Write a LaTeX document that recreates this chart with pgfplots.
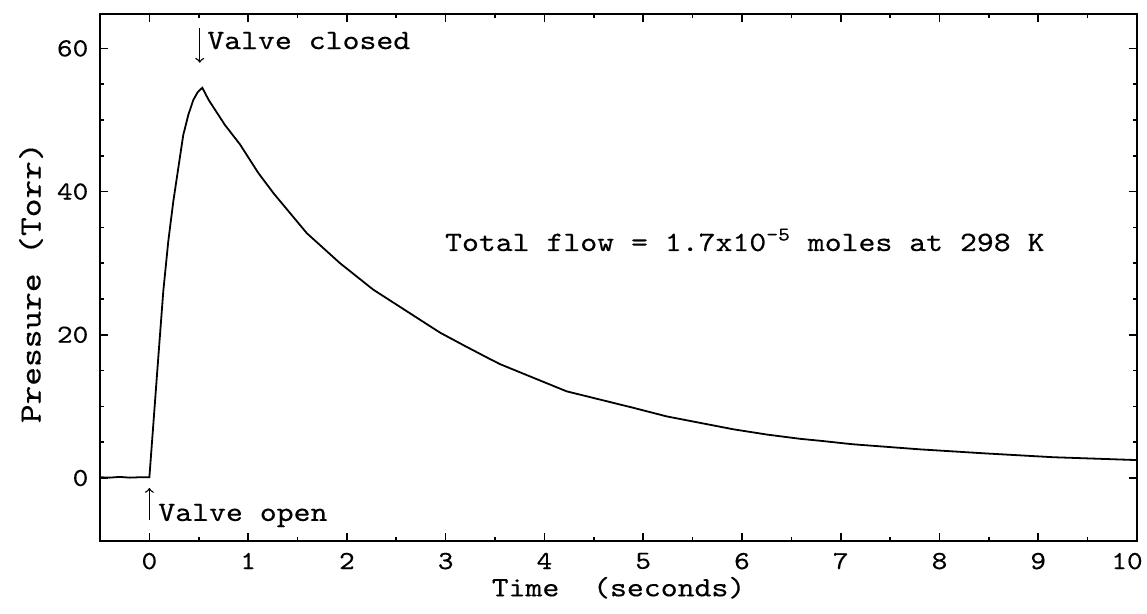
\documentclass[border=0pt]{standalone}
\usepackage{pgfplots}
\pgfplotsset{compat=1.18}
\usepackage{fontspec}
\newfontfamily\plotfont{lmmono10-regular}[Extension=.otf, FakeStretch=1.15, FakeBold=0.3]
\begin{document}
\begin{tikzpicture}
\begin{axis}[
  scale only axis,
  width=518.5pt, height=263.5pt,
  xmin=-0.5, xmax=10, ymin=-8.8, ymax=64.8,
  xtick={0,1,...,10}, ytick={0,20,40,60},
  xticklabels={0,1,2,3,4,5,6,7,8,9,{10\hspace*{10pt}}},
  minor x tick num=1, minor y tick num=3,
  tick align=inside, tick pos=both,
  major tick length=3.8pt, minor tick length=2.2pt,
  every tick/.style={black, line width=0.8pt},
  axis line style={line width=1.2pt},
  /pgf/number format/assume math mode=true,
  tick label style={font=\plotfont\fontsize{13}{15}\selectfont},
  xticklabel shift=2.4pt,
  yticklabel shift=2.3pt,
  xlabel={Time\ \ (seconds)}, ylabel={Pressure (Torr)},
  xlabel style={font=\plotfont\fontsize{14}{16}\selectfont, at={(axis description cs:0.5,-0.105)}, anchor=base},
  ylabel style={font=\plotfont\fontsize{15.5}{17}\selectfont, at={(axis description cs:-0.0665,0.49)}, anchor=center},
  clip=false,
]
\addplot[black, line width=0.9pt] coordinates {
(-0.5,0.1) (-0.4,0.05) (-0.3,0.15) (-0.2,0.05) (-0.1,0.1) (0.0,0.1)
(0.04,7.5) (0.09,16.8) (0.141,26.1) (0.191,33.0) (0.242,38.6)
(0.293,43.3) (0.343,47.9) (0.394,50.7) (0.445,52.8) (0.49,53.9) (0.536,54.5)
(0.6,52.8) (0.765,49.3) (0.917,46.6) (1.103,42.6) (1.255,39.8)
(1.593,34.2) (1.93,30.0) (2.267,26.3) (2.605,23.3) (2.943,20.3)
(3.2,18.4) (3.45,16.6) (3.55,15.9) (3.887,14.0) (4.225,12.1)
(4.563,10.95) (4.9,9.8) (5.238,8.6) (5.575,7.7) (5.913,6.8)
(6.25,6.07) (6.588,5.47) (6.79,5.2) (7.06,4.8) (7.13,4.7)
(7.8,4.0) (8.48,3.42) (9.15,2.9) (10.0,2.5)
};
\draw[->, line width=0.7pt] (axis cs:0,-5.9) -- (axis cs:0,-1.4);
\node[anchor=base west, inner sep=0pt, font=\plotfont\fontsize{14}{16}\selectfont] at (axis cs:0.087,-6.0) {Valve open};
\draw[->, line width=0.7pt] (axis cs:0.51,62.9) -- (axis cs:0.51,58.0);
\node[anchor=base west, inner sep=0pt, font=\plotfont\fontsize{14}{16}\selectfont] at (axis cs:0.583,59.9) {Valve closed};
\node[anchor=base west, inner sep=0pt, font=\plotfont\fontsize{14}{16}\selectfont] at (axis cs:2.99,31.7) {Total flow = 1.7x10\textsuperscript{-5} moles at 298 K};
\coordinate (bl) at (rel axis cs:0,0);
\coordinate (tr) at (rel axis cs:1,1);
\end{axis}
\path (bl) ++(-50pt,-36.5pt) coordinate (p1);
\path (tr) ++(5pt,7pt) coordinate (p2);
\pgfresetboundingbox
\path (p1) rectangle (p2);
\end{tikzpicture}
\end{document}
